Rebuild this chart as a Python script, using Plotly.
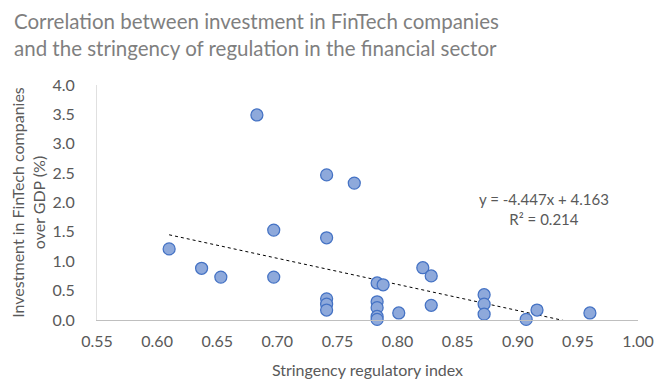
import plotly.graph_objects as go

# Data
stringency = [0.610, 0.637, 0.653, 0.683, 0.697, 0.697, 0.741, 0.741, 0.741, 0.741, 0.741,
              0.764, 0.783, 0.783, 0.783, 0.783, 0.783, 0.788, 0.801, 0.821, 0.828, 0.828,
              0.872, 0.872, 0.872, 0.907, 0.916, 0.960]
investment = [1.21, 0.88, 0.73, 3.49, 1.53, 0.73, 2.47, 1.40, 0.36, 0.27, 0.17,
              2.33, 0.63, 0.31, 0.21, 0.06, 0.01, 0.60, 0.12, 0.89, 0.75, 0.25,
              0.43, 0.27, 0.10, 0.01, 0.17, 0.12]

slope = -4.447
intercept = 4.163
r2 = 0.214

x_ticks = [0.55, 0.60, 0.65, 0.70, 0.75, 0.80, 0.85, 0.90, 0.95, 1.00]
y_ticks = [0.0, 0.5, 1.0, 1.5, 2.0, 2.5, 3.0, 3.5, 4.0]

FONT = "Lato"
GREY = "#595959"

x_lo, x_hi = min(stringency), max(stringency)
trend_x = [x_lo, x_hi]
trend_y = [slope * v + intercept for v in trend_x]

fig = go.Figure()
fig.add_trace(go.Scatter(
    x=trend_x, y=trend_y, mode="lines",
    line=dict(color="#000000", width=1, dash="dot"),
    hoverinfo="skip", showlegend=False,
))
fig.add_trace(go.Scatter(
    x=stringency, y=investment, mode="markers",
    marker=dict(size=12, color="#8EA9DB", line=dict(color="#4472C4", width=1.25)),
    cliponaxis=False, showlegend=False,
))

fig.add_annotation(
    x=0.922, y=1.89, xref="x", yref="y",
    text=f"y = {slope}x + {intercept}<br>R² = {r2}",
    showarrow=False, align="center",
    font=dict(family=FONT, size=15, color=GREY),
)

# Title as a paper annotation
fig.add_annotation(
    x=-0.157, y=1.33, xref="paper", yref="paper", xanchor="left", yanchor="top",
    text="Correlation between investment in FinTech companies<br>and the stringency of regulation in the financial sector",
    showarrow=False, align="left",
    font=dict(family=FONT, size=20.5, color="#7F7F7F"),
)

# The page body adds an 8px offset, so the figure is sized to fit the window
fig.update_layout(
    width=655, height=371,
    margin=dict(l=89, r=25, t=77, b=59, autoexpand=False),
    paper_bgcolor="white", plot_bgcolor="white",
    xaxis=dict(
        range=[0.55, 1.0], tickvals=x_ticks, ticktext=[f"{v:.2f}" for v in x_ticks],
        showgrid=False, zeroline=False, showline=True, linecolor="#BFBFBF", linewidth=1,
        automargin=False,
        ticks="", ticklabelstandoff=7, tickfont=dict(family=FONT, size=16, color=GREY),
        title=dict(text="Stringency regulatory index", font=dict(family=FONT, size=16, color=GREY), standoff=15),
    ),
    yaxis=dict(
        range=[0, 4.0], tickvals=y_ticks, ticktext=[f"{v:.1f}" for v in y_ticks],
        showgrid=False, zeroline=False, showline=True, linecolor="#E0E0E0", linewidth=1,
        automargin=False,
        ticks="", ticklabelstandoff=18, tickfont=dict(family=FONT, size=16, color=GREY),
        title=dict(text="Investment in FinTech companies<br>over GDP (%)", font=dict(family=FONT, size=16, color=GREY), standoff=3),
    ),
)

fig.write_html("out.html")
